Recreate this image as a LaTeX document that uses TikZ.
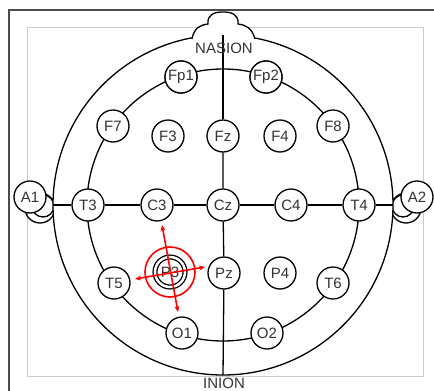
\documentclass[tikz,border=0pt]{standalone}
\usepackage{fontspec}
\setmainfont{Liberation Sans}
\usetikzlibrary{arrows.meta}
\definecolor{txt}{HTML}{333333}
\begin{document}
\begin{tikzpicture}[x=1pt,y=-1pt,
  line width=1.3pt,
  el/.style={circle,draw=black,fill=white,minimum size=32pt,inner sep=0pt,
    font=\fontsize{15}{17}\selectfont,text=txt},
  lbl/.style={font=\fontsize{15}{17}\selectfont,text=txt,inner sep=0pt},
  redl/.style={red,line width=1.6pt,{Stealth[length=6pt,width=5pt]}-{Stealth[length=6pt,width=5pt]}}]
\useasboundingbox (0,0) rectangle (434,391);
% frames
\draw[black!20,line width=0.8pt] (27,27) rectangle (423,376);
\draw[black!70,line width=2pt] (434,10) -- (9,10) -- (9,391);
% ears
\begin{scope}
  \clip (0,150) rectangle (54,240);
  \draw (40,208) circle[radius=15];
  \draw (43,206) circle[radius=11];
\end{scope}
\begin{scope}
  \clip (392,150) rectangle (434,240);
  \draw (406,208) circle[radius=15];
  \draw (403,206) circle[radius=11];
\end{scope}
% head
\draw[fill=white] (223,205) circle[radius=170];
\draw[fill=white] (192,39) .. controls (194,28) and (200,25) .. (208,24)
  .. controls (207,14) and (215,12) .. (223,12)
  .. controls (231,12) and (239,14) .. (238,24)
  .. controls (246,25) and (252,28) .. (255,39);
\draw (223,205) circle[radius=136];
\coordinate (top) at (223,35);
\coordinate (bot) at (223,375);
\coordinate (lft) at (53,205);
\coordinate (rgt) at (393,205);
\node[el] (Fp1) at (181,77) {Fp1};
\node[el] (Fp2) at (266,77) {Fp2};
\node[el] (F7) at (113,126) {F7};
\node[el] (F8) at (333,126) {F8};
\node[el] (F3) at (168,136) {F3};
\node[el] (Fz) at (223,136) {Fz};
\node[el] (F4) at (280,136) {F4};
\node[el] (T3) at (88,205) {T3};
\node[el] (C3) at (157,205) {C3};
\node[el] (Cz) at (223,205) {Cz};
\node[el] (C4) at (291,205) {C4};
\node[el] (T4) at (359,205) {T4};
\node[el] (T5) at (114,283) {T5};
\node[el] (T6) at (333,283) {T6};
\node[el,double,double distance=2.5pt,minimum size=30pt] (P3) at (170,272) {P3};
\node[el] (Pz) at (224,273) {Pz};
\node[el] (P4) at (280,273) {P4};
\node[el] (O1) at (182,333) {O1};
\node[el] (O2) at (267,333) {O2};
\node[el] (A1) at (30,197) {A1};
\node[el] (A2) at (417,197) {A2};
% lines
\draw (top) -- (Fz);
\draw (Fz) -- (Cz) -- (Pz);
\draw (Pz) -- (bot);
\draw (lft) -- (T3) -- (C3) -- (Cz) -- (C4) -- (T4) -- (rgt);
\foreach \n/\t in {Fp1/Fp1,Fp2/Fp2}{\node[el] at (\n) {\t};}
\node[lbl] (nas) at (224,48) {NASION};
\node[lbl] (ini) at (224,383) {INION};
% red marker
\draw[red,line width=1.6pt] (P3) circle[radius=25];
\coordinate (rl) at (135,279);
\coordinate (rr) at (205,267);
\coordinate (rt) at (162,225);
\coordinate (rb) at (178,312);
\draw[redl] (rl) -- (rr);
\draw[redl] (rt) -- (rb);
\end{tikzpicture}
\end{document}
